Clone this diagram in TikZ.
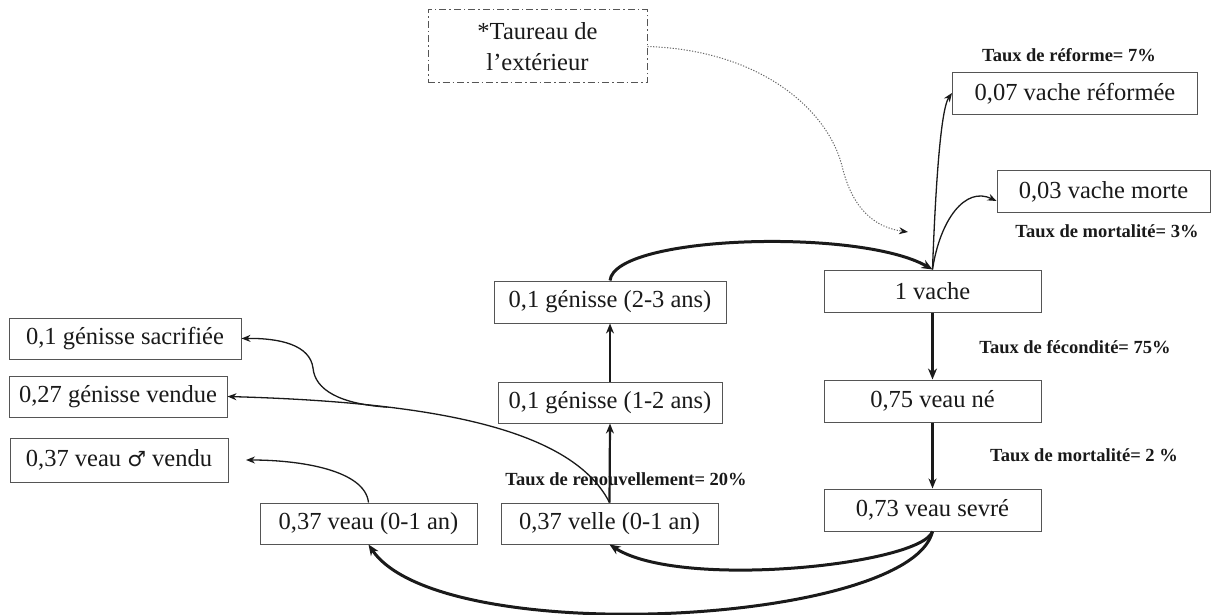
\documentclass[tikz,border=0pt]{standalone}
\usepackage{fontspec}
\setmainfont{Liberation Serif}
\newfontfamily\symfont{DejaVu Sans}
\usetikzlibrary{arrows.meta}
\definecolor{boxline}{HTML}{555555}
\definecolor{ink}{HTML}{1A1A1A}
\tikzset{
  box/.style={draw=boxline, line width=1pt, text=ink, inner sep=0pt, minimum height=42pt,
    font=\fontsize{24.5}{28}\selectfont},
  taubox/.style={draw=boxline, line width=1pt, dash pattern=on 7pt off 3pt on 1.5pt off 3pt,
    text=ink, align=center, inner sep=0pt, font=\fontsize{24.5}{31}\selectfont},
  lbl/.style={text=ink, inner sep=0pt, font=\fontsize{18.5}{22}\selectfont\bfseries},
  thin/.style={draw=ink, line width=1.3pt, -{Stealth[length=9pt,width=7pt]}},
  mid/.style={draw=ink, line width=2.2pt, -{Stealth[length=10pt,width=8pt]}},
  thick/.style={draw=ink, line width=3pt, -{Stealth[length=11pt,width=9pt]}},
  dots/.style={draw=black!60, line width=1pt, dash pattern=on 1.2pt off 1.6pt,
    -{Stealth[length=9pt,width=7pt,color=ink]}}
}
\begin{document}
\begin{tikzpicture}[x=1pt,y=-1pt]
\useasboundingbox[fill=white] (0,0) rectangle (1211,615);
% nodes
\node[taubox, minimum width=219pt, minimum height=73pt] (tau) at (537.5,46.5) {*Taureau de\\l’extérieur};
\node[box, minimum width=245pt] (ref) at (1075,94) {0,07 vache réformée};
\node[box, minimum width=213pt] (morte) at (1103.5,192) {0,03 vache morte};
\node[box, minimum width=217pt] (vache) at (932.5,291) {1 vache};
\node[box, minimum width=217pt] (ne) at (932.5,401) {0,75 veau né};
\node[box, minimum width=217pt] (sevre) at (932.5,510) {0,73 veau sevré};
\node[box, minimum width=232pt] (g23) at (610,302) {0,1 génisse (2-3 ans)};
\node[box, minimum width=224pt, minimum height=41pt] (g12) at (610,402.5) {0,1 génisse (1-2 ans)};
\node[box, minimum width=217pt, minimum height=41pt] (velle) at (609.5,523.5) {0,37 velle (0-1 an)};
\node[box, minimum width=217pt, minimum height=41pt] (veau) at (368.5,523.5) {0,37 veau (0-1 an)};
\node[box, minimum width=232pt, minimum height=41pt] (sacr) at (125,338.5) {0,1 génisse sacrifiée};
\node[box, minimum width=218pt, minimum height=41pt] (vend) at (118,396.5) {0,27 génisse vendue};
\node[box, minimum width=218pt, minimum height=44pt] (male) at (119,460) {0,37 veau {\symfont\fontsize{21}{24}\selectfont ♂} vendu};
% labels
\node[lbl] (lref) at (1069,55) {Taux de réforme= 7\%};
\node[lbl] (lmort3) at (1107,231) {Taux de mortalité= 3\%};
\node[lbl] (lfec) at (1075,347) {Taux de fécondité= 75\%};
\node[lbl] (lmort2) at (1084,455) {Taux de mortalité= 2 \%};
\node[lbl] (lren) at (626,479) {Taux de renouvellement= 20\%};
% free coordinates
\coordinate (bull) at (908,232);
\coordinate (malein) at (246,460);
% connectors
\draw[thick] (g23.north) .. controls (615,235) and (860,228) .. (vache.north);
\draw[thin] (vache.north) .. controls (935,200) and (940,110) .. ([yshift=1pt]ref.west);
\draw[thin] (vache.north) .. controls (940,220) and (965,186) .. ([yshift=-9pt]morte.west);
\draw[dots] (tau.east) .. controls (760,50) and (830,110) .. (843,170) .. controls (855,215) and (880,228) .. (bull);
\draw[thick] (vache.south) -- (ne.north);
\draw[mid] (ne.south) -- (sevre.north);
\draw[mid] (velle.north) -- (g12.south);
\draw[mid] (g12.north) -- (g23.south);
\draw[thick] (sevre.south) .. controls (920,565) and (680,590) .. (velle.south);
\draw[thick] (sevre.south) .. controls (910,625) and (440,650) .. (veau.south);
\draw[thin] (veau.north) .. controls (365,470) and (300,460) .. (malein);
\draw[thin] (velle.north) .. controls (570,425) and (420,402) .. coordinate[pos=0.7] (split) (vend.east);
\draw[thin] (split) .. controls (340,404) and (315,390) .. (313,368) .. controls (310,345) and (280,338) .. (sacr.east);
\end{tikzpicture}
\end{document}
